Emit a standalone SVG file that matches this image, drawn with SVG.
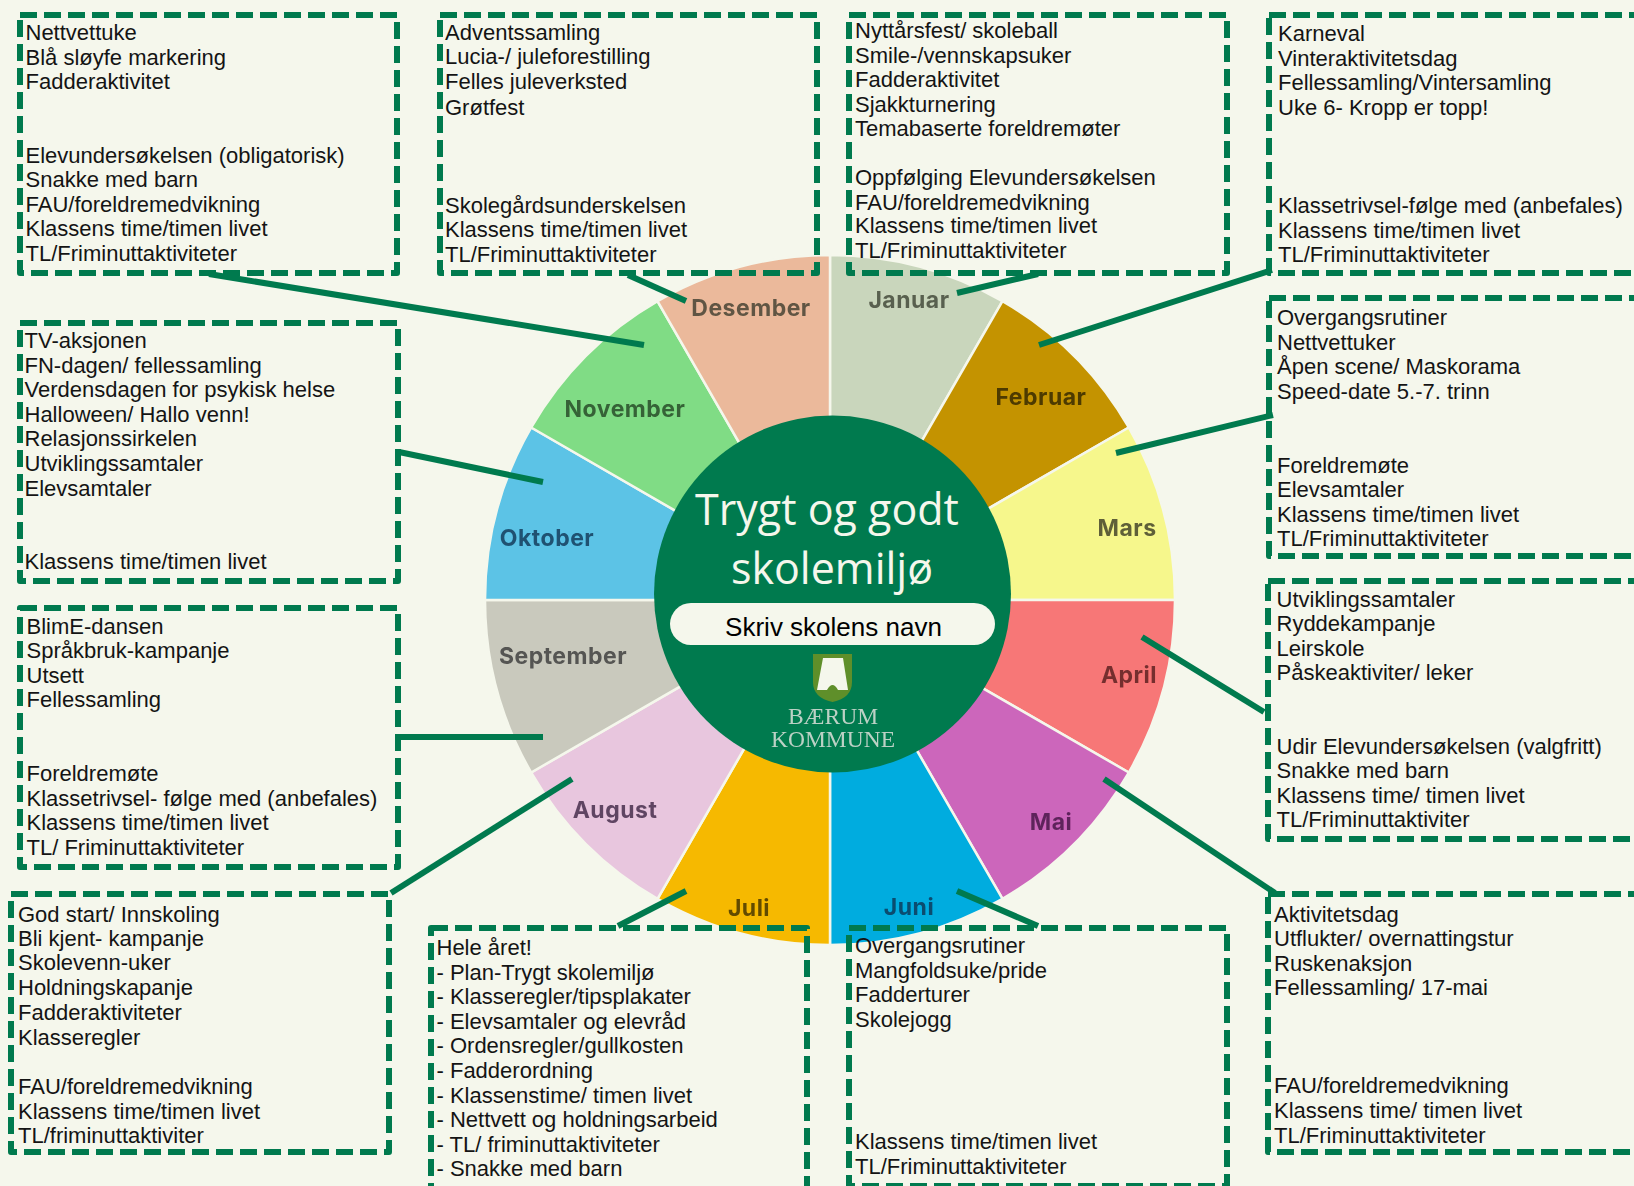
<svg xmlns="http://www.w3.org/2000/svg" width="1634" height="1186" viewBox="0 0 1634 1186">
<style>
.box{fill:none;stroke:#007a4e;stroke-width:6;stroke-dasharray:17 7;stroke-linejoin:round}
.t{font-family:"Liberation Sans",Arial,sans-serif;font-size:22px;fill:#141414}
.m{font-family:"Inter","Noto Sans",sans-serif;font-weight:700;font-size:23px;letter-spacing:.5px;text-anchor:middle;fill-opacity:.78;filter:url(#soft)}
.w{stroke:#f5f7ec;stroke-width:2.5;stroke-linejoin:round}
.c{stroke:#007a4e;stroke-width:6;fill:none}
.title{font-family:"Open Sans","Noto Sans",sans-serif;font-size:43px;fill:#f5f7ec;text-anchor:middle}
.logo{font-family:"Liberation Serif",serif;font-size:23.5px;fill:#bcd1c5;text-anchor:middle;filter:url(#soft)}
</style>
<defs><filter id="soft" x="-10%" y="-20%" width="120%" height="140%"><feGaussianBlur stdDeviation="0.55"/></filter></defs>
<rect width="1634" height="1186" fill="#f5f7ec"/>
<g id="wheel">
<g filter="url(#soft)">
<path class="w" fill="#c9d6bc" d="M830 600L830 255A345 345 0 0 1 1002.5 301.2Z"/>
<path class="w" fill="#c49300" d="M830 600L1002.5 301.2A345 345 0 0 1 1128.8 427.5Z"/>
<path class="w" fill="#f6f78c" d="M830 600L1128.8 427.5A345 345 0 0 1 1175 600Z"/>
<path class="w" fill="#f77777" d="M830 600L1175 600A345 345 0 0 1 1128.8 772.5Z"/>
<path class="w" fill="#cc66bb" d="M830 600L1128.8 772.5A345 345 0 0 1 1002.5 898.8Z"/>
<path class="w" fill="#00acdf" d="M830 600L1002.5 898.8A345 345 0 0 1 830 945Z"/>
<path class="w" fill="#f6b900" d="M830 600L830 945A345 345 0 0 1 657.5 898.8Z"/>
<path class="w" fill="#e8c6de" d="M830 600L657.5 898.8A345 345 0 0 1 531.2 772.5Z"/>
<path class="w" fill="#c9c9bd" d="M830 600L531.2 772.5A345 345 0 0 1 485 600Z"/>
<path class="w" fill="#5bc3e6" d="M830 600L485 600A345 345 0 0 1 531.2 427.5Z"/>
<path class="w" fill="#80dc85" d="M830 600L531.2 427.5A345 345 0 0 1 657.5 301.2Z"/>
<path class="w" fill="#ebb99b" d="M830 600L657.5 301.2A345 345 0 0 1 830 255Z"/>
</g>
<text class="m" x="751" y="316" fill="#3a3a2a">Desember</text>
<text class="m" x="909" y="308" fill="#3a4030">Januar</text>
<text class="m" x="1041" y="405" fill="#2a2000">Februar</text>
<text class="m" x="1127" y="536" fill="#333320">Mars</text>
<text class="m" x="1129" y="683" fill="#501818">April</text>
<text class="m" x="1051" y="830" fill="#401040">Mai</text>
<text class="m" x="909" y="915" fill="#0a3050">Juni</text>
<text class="m" x="749" y="916" fill="#3a2c00">Juli</text>
<text class="m" x="615" y="818" fill="#3a2040">August</text>
<text class="m" x="563" y="664" fill="#333">September</text>
<text class="m" x="547" y="546" fill="#0a3050">Oktober</text>
<text class="m" x="625" y="417" fill="#1f401f">November</text>
</g>
<g id="center">
<circle cx="832.500" cy="594" r="178.500" fill="#007a4e"/>
<text class="title" x="827" y="525">Trygt og godt</text>
<text class="title" x="832" y="584">skolemiljø</text>
<rect x="670" y="603" width="325" height="42" rx="21" fill="#f5f7ec"/>
<text class="t" x="833.500" y="636" style="font-size:26px;text-anchor:middle;fill:#000">Skriv skolens navn</text>
<path d="M813 654H852V682Q852 698 832.500 702Q813 698 813 682Z" fill="#5f8f2a"/>
<path d="M823 658H843L848 690H838Q832.500 680 827 690H817Z" fill="#f5f7ec"/>
<text class="logo" x="833" y="724">BÆRUM</text>
<text class="logo" x="833" y="747">KOMMUNE</text>
</g>
<g id="connectors">
<line class="c" x1="209" y1="274" x2="644" y2="345"/>
<line class="c" x1="628" y1="275" x2="686" y2="301"/>
<line class="c" x1="1038" y1="274" x2="957" y2="293"/>
<line class="c" x1="1272" y1="270" x2="1039" y2="345"/>
<line class="c" x1="1273" y1="415" x2="1116" y2="453"/>
<line class="c" x1="1264" y1="712" x2="1142" y2="637"/>
<line class="c" x1="1275" y1="893" x2="1104" y2="779"/>
<line class="c" x1="1038" y1="926" x2="957" y2="891"/>
<line class="c" x1="618" y1="926" x2="686" y2="891"/>
<line class="c" x1="391" y1="893" x2="572" y2="779"/>
<line class="c" x1="399" y1="737" x2="543" y2="737"/>
<line class="c" x1="399" y1="452" x2="543" y2="482"/>
</g>
<g id="box-nov">
<rect class="box" x="20" y="15" width="377" height="258"/>
<text class="t" x="25.500" y="39.500">Nettvettuke</text>
<text class="t" x="25.500" y="64.500">Blå sløyfe markering</text>
<text class="t" x="25.500" y="88.500">Fadderaktivitet</text>
<text class="t" x="25.500" y="162.700">Elevundersøkelsen (obligatorisk)</text>
<text class="t" x="25.500" y="187">Snakke med barn</text>
<text class="t" x="25.500" y="211.700">FAU/foreldremedvikning</text>
<text class="t" x="25.500" y="236">Klassens time/timen livet</text>
<text class="t" x="25.500" y="260.700">TL/Friminuttaktiviteter</text>
</g>
<g id="box-des">
<rect class="box" x="440" y="15" width="377" height="258"/>
<text class="t" x="445" y="39.600">Adventssamling</text>
<text class="t" x="445" y="63.600">Lucia-/ juleforestilling</text>
<text class="t" x="445" y="88.600">Felles juleverksted</text>
<text class="t" x="445" y="114.600">Grøtfest</text>
<text class="t" x="445" y="212.600">Skolegårdsunderskelsen</text>
<text class="t" x="445" y="236.600">Klassens time/timen livet</text>
<text class="t" x="445" y="261.600">TL/Friminuttaktiviteter</text>
</g>
<g id="box-jan">
<rect class="box" x="849" y="15" width="378" height="258"/>
<text class="t" x="855" y="37.500">Nyttårsfest/ skoleball</text>
<text class="t" x="855" y="62.500">Smile-/vennskapsuker</text>
<text class="t" x="855" y="86.500">Fadderaktivitet</text>
<text class="t" x="855" y="111.500">Sjakkturnering</text>
<text class="t" x="855" y="135.500">Temabaserte foreldremøter</text>
<text class="t" x="855" y="184.500">Oppfølging Elevundersøkelsen</text>
<text class="t" x="855" y="209.500">FAU/foreldremedvikning</text>
<text class="t" x="855" y="233.400">Klassens time/timen livet</text>
<text class="t" x="855" y="258.400">TL/Friminuttaktiviteter</text>
</g>
<g id="box-feb">
<rect class="box" x="1269" y="15" width="400" height="258"/>
<text class="t" x="1278" y="41">Karneval</text>
<text class="t" x="1278" y="66">Vinteraktivitetsdag</text>
<text class="t" x="1278" y="90">Fellessamling/Vintersamling</text>
<text class="t" x="1278" y="115">Uke 6- Kropp er topp!</text>
<text class="t" x="1278" y="212.700">Klassetrivsel-følge med (anbefales)</text>
<text class="t" x="1278" y="237.700">Klassens time/timen livet</text>
<text class="t" x="1278" y="261.700">TL/Friminuttaktiviteter</text>
</g>
<g id="box-mar">
<rect class="box" x="1269" y="298" width="400" height="258"/>
<text class="t" x="1277" y="325.100">Overgangsrutiner</text>
<text class="t" x="1277" y="350.200">Nettvettuker</text>
<text class="t" x="1277" y="374.100">Åpen scene/ Maskorama</text>
<text class="t" x="1277" y="399.100">Speed-date 5.-7. trinn</text>
<text class="t" x="1277" y="473.100">Foreldremøte</text>
<text class="t" x="1277" y="497.100">Elevsamtaler</text>
<text class="t" x="1277" y="522.100">Klassens time/timen livet</text>
<text class="t" x="1277" y="546.100">TL/Friminuttaktiviteter</text>
</g>
<g id="box-apr">
<rect class="box" x="1268" y="581" width="400" height="258"/>
<text class="t" x="1276.500" y="606.500">Utviklingssamtaler</text>
<text class="t" x="1276.500" y="630.500">Ryddekampanje</text>
<text class="t" x="1276.500" y="655.500">Leirskole</text>
<text class="t" x="1276.500" y="679.500">Påskeaktiviter/ leker</text>
<text class="t" x="1276.500" y="753.500">Udir Elevundersøkelsen (valgfritt)</text>
<text class="t" x="1276.500" y="778">Snakke med barn</text>
<text class="t" x="1276.500" y="803">Klassens time/ timen livet</text>
<text class="t" x="1276.500" y="827.400">TL/Friminuttaktiviter</text>
</g>
<g id="box-mai">
<rect class="box" x="1268" y="894" width="400" height="258"/>
<text class="t" x="1274" y="921.500">Aktivitetsdag</text>
<text class="t" x="1274" y="946.200">Utflukter/ overnattingstur</text>
<text class="t" x="1274" y="971.200">Ruskenaksjon</text>
<text class="t" x="1274" y="995.200">Fellessamling/ 17-mai</text>
<text class="t" x="1274" y="1093">FAU/foreldremedvikning</text>
<text class="t" x="1274" y="1118">Klassens time/ timen livet</text>
<text class="t" x="1274" y="1143">TL/Friminuttaktiviteter</text>
</g>
<g id="box-jun">
<rect class="box" x="849" y="928" width="378" height="258"/>
<text class="t" x="855" y="952.500">Overgangsrutiner</text>
<text class="t" x="855" y="977.500">Mangfoldsuke/pride</text>
<text class="t" x="855" y="1001.500">Fadderturer</text>
<text class="t" x="855" y="1026.500">Skolejogg</text>
<text class="t" x="855" y="1149">Klassens time/timen livet</text>
<text class="t" x="855" y="1174">TL/Friminuttaktiviteter</text>
</g>
<g id="box-jul">
<rect class="box" x="431" y="928" width="376" height="300"/>
<text class="t" x="436.500" y="954.600">Hele året!</text>
<text class="t" x="436.500" y="979.600">- Plan-Trygt skolemiljø</text>
<text class="t" x="436.500" y="1003.600">- Klasseregler/tipsplakater</text>
<text class="t" x="436.500" y="1028.600">- Elevsamtaler og elevråd</text>
<text class="t" x="436.500" y="1052.500">- Ordensregler/gullkosten</text>
<text class="t" x="436.500" y="1077.500">- Fadderordning</text>
<text class="t" x="436.500" y="1102.600">- Klassenstime/ timen livet</text>
<text class="t" x="436.500" y="1126.600">- Nettvett og holdningsarbeid</text>
<text class="t" x="436.500" y="1151.500">- TL/ friminuttaktiviteter</text>
<text class="t" x="436.500" y="1175.500">- Snakke med barn</text>
</g>
<g id="box-aug">
<rect class="box" x="11" y="894" width="378" height="258"/>
<text class="t" x="18" y="921.700">God start/ Innskoling</text>
<text class="t" x="18" y="945.700">Bli kjent- kampanje</text>
<text class="t" x="18" y="970.200">Skolevenn-uker</text>
<text class="t" x="18" y="995.200">Holdningskapanje</text>
<text class="t" x="18" y="1020.200">Fadderaktiviteter</text>
<text class="t" x="18" y="1044.700">Klasseregler</text>
<text class="t" x="18" y="1094">FAU/foreldremedvikning</text>
<text class="t" x="18" y="1118.500">Klassens time/timen livet</text>
<text class="t" x="18" y="1143">TL/friminuttaktiviter</text>
</g>
<g id="box-sep">
<rect class="box" x="20" y="608" width="378" height="259"/>
<text class="t" x="26.500" y="633.600">BlimE-dansen</text>
<text class="t" x="26.500" y="657.600">Språkbruk-kampanje</text>
<text class="t" x="26.500" y="682.600">Utsett</text>
<text class="t" x="26.500" y="706.600">Fellessamling</text>
<text class="t" x="26.500" y="780.500">Foreldremøte</text>
<text class="t" x="26.500" y="805.600">Klassetrivsel- følge med (anbefales)</text>
<text class="t" x="26.500" y="829.500">Klassens time/timen livet</text>
<text class="t" x="26.500" y="854.500">TL/ Friminuttaktiviteter</text>
</g>
<g id="box-okt">
<rect class="box" x="20" y="323" width="378" height="258"/>
<text class="t" x="24.500" y="348">TV-aksjonen</text>
<text class="t" x="24.500" y="373">FN-dagen/ fellessamling</text>
<text class="t" x="24.500" y="397">Verdensdagen for psykisk helse</text>
<text class="t" x="24.500" y="422">Halloween/ Hallo venn!</text>
<text class="t" x="24.500" y="446">Relasjonssirkelen</text>
<text class="t" x="24.500" y="471">Utviklingssamtaler</text>
<text class="t" x="24.500" y="496">Elevsamtaler</text>
<text class="t" x="24.500" y="569">Klassens time/timen livet</text>
</g>
</svg>
